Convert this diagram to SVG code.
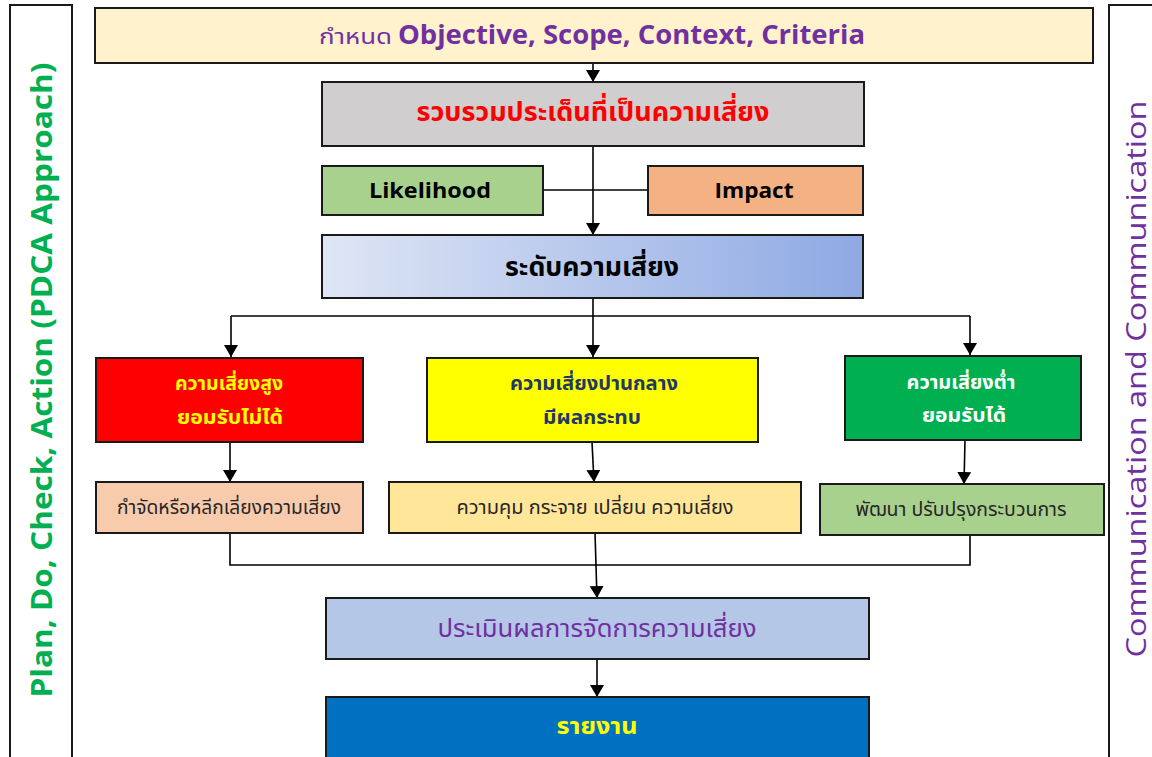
<svg xmlns="http://www.w3.org/2000/svg" width="1152" height="757" viewBox="0 0 1152 757">
  <defs>
    <linearGradient id="levelFill" x1="0" y1="0" x2="1" y2="0">
      <stop offset="0" stop-color="#dfe6f5"/>
      <stop offset="1" stop-color="#8ea9e3"/>
    </linearGradient>
    <marker id="arrow" viewBox="0 0 12 14" refX="12" refY="7" markerWidth="12" markerHeight="14" markerUnits="userSpaceOnUse" orient="auto">
      <path d="M0,0 L12,7 L0,14 z" fill="#000"/>
    </marker>
    <style>
      .box { stroke: #1a1a1a; stroke-width: 2; }
      .side { fill: #fff; stroke: #1a1a1a; stroke-width: 2; }
      .wire { fill: none; stroke: #000; stroke-width: 1.6; }
      .arr { fill: none; stroke: #000; stroke-width: 1.6; marker-end: url(#arrow); }
      text { font-family: "Noto Sans Thai", "Tahoma", "DejaVu Sans", "Noto Sans", sans-serif; }
      .lat { font-family: "Open Sans", "Liberation Sans", "Noto Sans Thai", sans-serif; }
    </style>
  </defs>

  <rect width="1152" height="757" fill="#fff"/>

  <!-- side panels -->
  <g id="pdca">
    <rect class="side" x="10" y="5" width="62" height="770"/>
    <text class="lat" transform="translate(52,380) rotate(-90)" text-anchor="middle" font-size="29" font-weight="bold" fill="#00b050" textLength="635" lengthAdjust="spacingAndGlyphs">Plan, Do, Check, Action (PDCA Approach)</text>
  </g>
  <g id="communication">
    <rect class="side" x="1109" y="5" width="60" height="770"/>
    <text class="lat" transform="translate(1146,379) rotate(-90)" text-anchor="middle" font-size="28" fill="#7030a0" textLength="557" lengthAdjust="spacingAndGlyphs">Communication and Communication</text>
  </g>

  <!-- connectors -->
  <g id="connectors">
    <line class="arr" x1="593" y1="63" x2="593" y2="82"/>
    <line class="arr" x1="593" y1="146" x2="593" y2="235"/>
    <line class="wire" x1="543" y1="190" x2="648" y2="190"/>
    <polyline class="wire" points="231,316 970,316"/>
    <line class="wire" x1="593" y1="298" x2="593" y2="316"/>
    <line class="arr" x1="231" y1="316" x2="231" y2="357"/>
    <line class="arr" x1="593" y1="316" x2="593" y2="357"/>
    <line class="arr" x1="970" y1="316" x2="970" y2="355"/>
    <line class="arr" x1="230" y1="442" x2="230" y2="482"/>
    <line class="arr" x1="592" y1="442" x2="594" y2="482"/>
    <line class="arr" x1="965" y1="440" x2="964" y2="484"/>
    <polyline class="wire" points="230,523 230,565 970,565 970,535"/>
    <line class="arr" x1="595" y1="533" x2="597" y2="598"/>
    <line class="arr" x1="597" y1="659" x2="597" y2="697"/>
  </g>

  <g id="define">
    <rect class="box" x="95" y="8" width="998" height="55" fill="#fff2cc"/>
    <text x="319" y="44" font-size="21" fill="#7030a0" textLength="73" lengthAdjust="spacingAndGlyphs">กำหนด</text>
    <text class="lat" x="398" y="44" font-size="27" font-weight="bold" fill="#7030a0" textLength="467" lengthAdjust="spacingAndGlyphs">Objective, Scope, Context, Criteria</text>
  </g>

  <g id="collect">
    <rect class="box" x="322" y="82" width="542" height="64" fill="#d0cece"/>
    <text x="593" y="121" text-anchor="middle" font-size="27" font-weight="bold" fill="#ff0000" textLength="353" lengthAdjust="spacingAndGlyphs">รวบรวมประเด็นที่เป็นความเสี่ยง</text>
  </g>

  <g id="likelihood">
    <rect class="box" x="322" y="166" width="221" height="49" fill="#a9d18e"/>
    <text class="lat" x="430" y="198" text-anchor="middle" font-size="22" font-weight="bold" fill="#000" textLength="122" lengthAdjust="spacingAndGlyphs">Likelihood</text>
  </g>

  <g id="impact">
    <rect class="box" x="648" y="166" width="215" height="49" fill="#f4b183"/>
    <text class="lat" x="754" y="198" text-anchor="middle" font-size="22" font-weight="bold" fill="#000" textLength="79" lengthAdjust="spacingAndGlyphs">Impact</text>
  </g>

  <g id="level">
    <rect class="box" x="322" y="235" width="541" height="63" fill="url(#levelFill)"/>
    <text x="592" y="276" text-anchor="middle" font-size="26" font-weight="bold" fill="#000" textLength="174" lengthAdjust="spacingAndGlyphs">ระดับความเสี่ยง</text>
  </g>

  <g id="high">
    <rect class="box" x="96" y="358" width="267" height="84" fill="#ff0000"/>
    <text x="229" y="390" text-anchor="middle" font-size="19" font-weight="bold" fill="#ffff00" textLength="108" lengthAdjust="spacingAndGlyphs">ความเสี่ยงสูง</text>
    <text x="230" y="424" text-anchor="middle" font-size="19" font-weight="bold" fill="#ffff00" textLength="106" lengthAdjust="spacingAndGlyphs">ยอมรับไม่ได้</text>
  </g>

  <g id="medium">
    <rect class="box" x="427" y="358" width="331" height="84" fill="#ffff00"/>
    <text x="594" y="390" text-anchor="middle" font-size="19" font-weight="bold" fill="#1f3864" textLength="168" lengthAdjust="spacingAndGlyphs">ความเสี่ยงปานกลาง</text>
    <text x="592" y="424" text-anchor="middle" font-size="19" font-weight="bold" fill="#1f3864" textLength="98" lengthAdjust="spacingAndGlyphs">มีผลกระทบ</text>
  </g>

  <g id="low">
    <rect class="box" x="845" y="356" width="236" height="84" fill="#00b050"/>
    <text x="961" y="389" text-anchor="middle" font-size="19" font-weight="bold" fill="#fff" textLength="109" lengthAdjust="spacingAndGlyphs">ความเสี่ยงต่ำ</text>
    <text x="964" y="422" text-anchor="middle" font-size="19" font-weight="bold" fill="#fff" textLength="84" lengthAdjust="spacingAndGlyphs">ยอมรับได้</text>
  </g>

  <g id="avoid">
    <rect class="box" x="96" y="482" width="267" height="51" fill="#f8cbad"/>
    <text x="229" y="514" text-anchor="middle" font-size="19" fill="#262626" textLength="224" lengthAdjust="spacingAndGlyphs">กำจัดหรือหลีกเลี่ยงความเสี่ยง</text>
  </g>

  <g id="control">
    <rect class="box" x="389" y="482" width="412" height="51" fill="#ffe699"/>
    <text x="595" y="514" text-anchor="middle" font-size="19" fill="#262626" textLength="277" lengthAdjust="spacingAndGlyphs">ความคุม กระจาย เปลี่ยน ความเสี่ยง</text>
  </g>

  <g id="improve">
    <rect class="box" x="820" y="484" width="284" height="51" fill="#a9d18e"/>
    <text x="961" y="516" text-anchor="middle" font-size="19" fill="#262626" textLength="211" lengthAdjust="spacingAndGlyphs">พัฒนา ปรับปรุงกระบวนการ</text>
  </g>

  <g id="evaluate">
    <rect class="box" x="326" y="598" width="543" height="61" fill="#b4c7e7"/>
    <text x="597" y="637" text-anchor="middle" font-size="25" fill="#7030a0" textLength="319" lengthAdjust="spacingAndGlyphs">ประเมินผลการจัดการความเสี่ยง</text>
  </g>

  <g id="report">
    <rect class="box" x="326" y="697" width="543" height="80" fill="#0070c0"/>
    <text x="597" y="734" text-anchor="middle" font-size="23" font-weight="bold" fill="#ffff00" textLength="81" lengthAdjust="spacingAndGlyphs">รายงาน</text>
  </g>
</svg>
